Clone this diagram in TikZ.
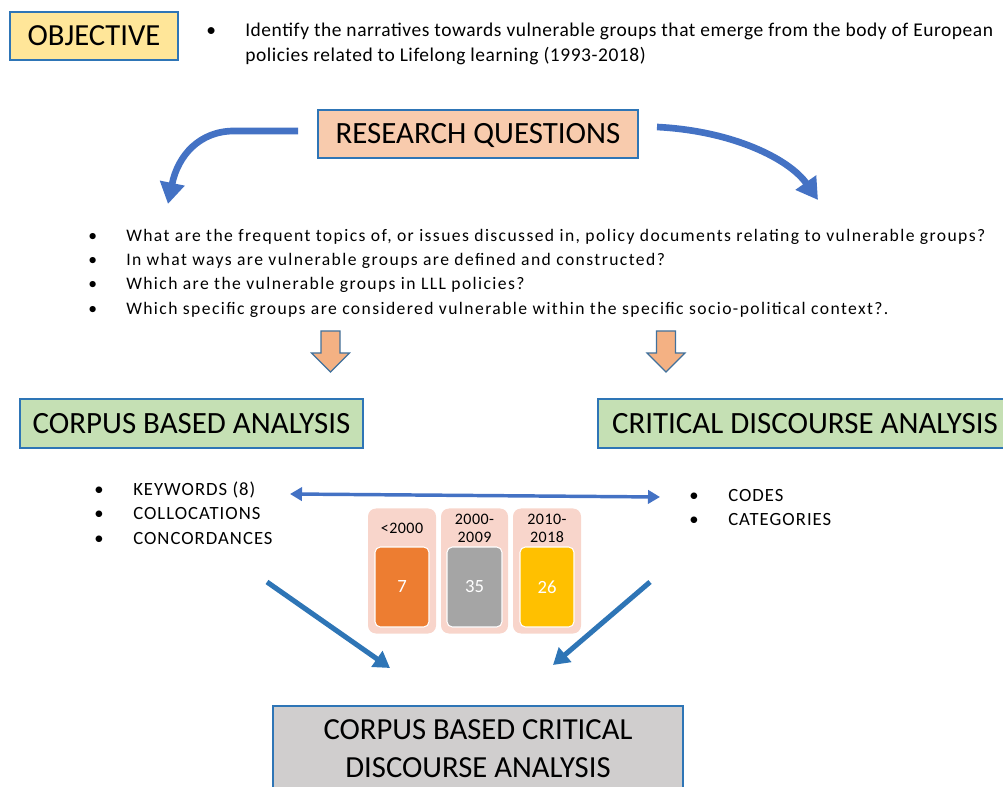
\documentclass[tikz,border=0pt]{standalone}
\usepackage{fontspec}
\setmainfont{Carlito}
\newfontfamily\lsq[LetterSpace=8]{Carlito}
\newfontfamily\lsk[LetterSpace=5.5]{Carlito}
\newfontfamily\lso[LetterSpace=2.8]{Carlito}
\newfontfamily\lsl[LetterSpace=3]{Carlito}
\usetikzlibrary{arrows.meta}
\definecolor{bord}{HTML}{2E75B6}
\definecolor{arrblue}{HTML}{4472C4}
\definecolor{diagblue}{HTML}{2E75B6}
\definecolor{objfill}{HTML}{FFE699}
\definecolor{rqfill}{HTML}{F8CBAD}
\definecolor{grfill}{HTML}{C5E0B4}
\definecolor{gyfill}{HTML}{D0CECE}
\definecolor{orarr}{HTML}{F4B183}
\definecolor{orarrb}{HTML}{41719C}
\definecolor{pinkbg}{HTML}{F8D5CB}
\definecolor{c1}{HTML}{ED7D31}
\definecolor{c2}{HTML}{A5A5A5}
\definecolor{c3}{HTML}{FFC000}
\tikzset{
  mainbox/.style={draw=bord, line width=1.3pt, inner sep=0pt, font=\fontsize{23.2}{27}\selectfont},
  capcenter/.style={text height=15pt, text depth=0pt},
  txt/.style={anchor=base west, inner sep=0pt, font=\lso\fontsize{14.6}{17}\selectfont},
  qtxt/.style={anchor=base west, inner sep=0pt, font=\lsq\fontsize{13.2}{16}\selectfont},
  ktxt/.style={anchor=base west, inner sep=0pt, font=\lsk\fontsize{14}{16}\selectfont},
  outerbox/.style={fill=pinkbg, rounded corners=6pt, inner sep=0pt},
  innerbox/.style={draw=white, line width=0.8pt, rounded corners=4pt, inner sep=0pt, text=white, font=\fontsize{14}{16}\selectfont},
  lbl/.style={inner sep=0pt, align=center, font=\lsl\fontsize{12}{13.5}\selectfont},
  curvarr/.style={draw=arrblue, line width=5pt, -{Triangle[length=16pt,width=18pt]}},
  diagarr/.style={draw=diagblue, line width=3.8pt, -{Triangle[length=12pt,width=14pt]}},
  dblarr/.style={draw=arrblue, line width=2.6pt, {Triangle[length=9pt,width=10pt]}-{Triangle[length=9pt,width=10pt]}},
  downarr/.style={fill=orarr, draw=orarrb, line width=0.9pt, line join=miter},
}
\begin{document}
\begin{tikzpicture}[x=0.75pt,y=-0.75pt]
\useasboundingbox (0,0) rectangle (1003,787);
% Objective
\node[mainbox, capcenter, fill=objfill, minimum width=168*0.75pt, minimum height=48*0.75pt, font=\fontsize{23}{26}\selectfont] (obj) at (94,36) {OBJECTIVE};
\node[txt] (objb) at (206,37) {•};
\node[txt] (obj1) at (245,37) {Identify the narratives towards vulnerable groups that emerge from the body of European};
\node[txt] (obj2) at (245,62) {policies related to Lifelong learning (1993-2018)};
% Research questions
\node[mainbox, capcenter, fill=rqfill, minimum width=320*0.75pt, minimum height=48*0.75pt] (rq) at (478,134) {RESEARCH QUESTIONS};
\coordinate (la) at (298,131);
\coordinate (lt) at (168,204);
\coordinate (ra) at (657,127);
\coordinate (rt) at (818,200);
\draw[curvarr] (la) -- (234,131) .. controls (200,131) and (178,155) .. (lt);
\draw[curvarr] (ra) .. controls (735,131) and (790,160) .. (rt);
% Questions
\node[qtxt] (qb1) at (88,242) {•};
\node[qtxt] (q1) at (126,242) {What are the frequent topics of, or issues discussed in, policy documents relating to vulnerable groups?};
\node[qtxt] (qb2) at (88,266) {•};
\node[qtxt] (q2) at (126,266) {In what ways are vulnerable groups are defined and constructed?};
\node[qtxt] (qb3) at (88,290) {•};
\node[qtxt] (q3) at (126,290) {Which are the vulnerable groups in LLL policies?};
\node[qtxt] (qb4) at (88,315) {•};
\node[qtxt] (q4) at (126,315) {Which specific groups are considered vulnerable within the specific socio-political context?.};
% orange down arrows
\draw[downarr] (321,331) -- (340,331) -- (340,353) -- (349.5,353) -- (330.5,372) -- (311.5,353) -- (321,353) -- cycle;
\draw[downarr] (656.5,331) -- (675.5,331) -- (675.5,353) -- (685,353) -- (666,372) -- (647,353) -- (656.5,353) -- cycle;
% analysis boxes
\node[mainbox, capcenter, fill=grfill, minimum width=343*0.75pt, minimum height=49*0.75pt] (cba) at (191.5,423.5) {CORPUS BASED ANALYSIS};
\node[mainbox, capcenter, fill=grfill, minimum width=414*0.75pt, minimum height=49*0.75pt] (cda) at (805,423.5) {CRITICAL DISCOURSE ANALYSIS};
% keyword bullets
\node[ktxt] (kb1) at (94,496) {•};
\node[ktxt] (k1) at (133,496) {KEYWORDS (8)};
\node[ktxt] (kb2) at (94,520) {•};
\node[ktxt] (k2) at (133,520) {COLLOCATIONS};
\node[ktxt] (kb3) at (94,544) {•};
\node[ktxt] (k3) at (133,544) {CONCORDANCES};
\node[ktxt] (cb1) at (689,502) {•};
\node[ktxt] (c1t) at (728,502) {CODES};
\node[ktxt] (cb2) at (689,526) {•};
\node[ktxt] (c2t) at (728,526) {CATEGORIES};
\coordinate (dl) at (290,494);
\coordinate (dr) at (660,497);
\draw[dblarr] (dl) -- (dr);
% period boxes
\node[outerbox, minimum width=68*0.75pt, minimum height=125*0.75pt] (p1) at (402,571) {};
\node[outerbox, minimum width=67*0.75pt, minimum height=125*0.75pt] (p2) at (474.5,571) {};
\node[outerbox, minimum width=68*0.75pt, minimum height=125*0.75pt] (p3) at (547,571) {};
\node[lbl] (l1) at (402,528) {<2000};
\node[lbl] (l2) at (474.5,528) {2000-\\2009};
\node[lbl] (l3) at (547,528) {2010-\\2018};
\node[innerbox, fill=c1, minimum width=54*0.75pt, minimum height=80*0.75pt] (n1) at (402,587) {7};
\node[innerbox, fill=c2, minimum width=55*0.75pt, minimum height=80*0.75pt] (n2) at (474.5,587) {35};
\node[innerbox, fill=c3, minimum width=54*0.75pt, minimum height=80*0.75pt] (n3) at (547,587) {26};
% final box
\node[mainbox, fill=gyfill, minimum width=410*0.75pt, minimum height=100*0.75pt] (finalbox) at (478,756) {};
\node[inner sep=0pt, align=center, font=\fontsize{23}{28.5}\selectfont] (final) at (478,749) {CORPUS BASED CRITICAL\\DISCOURSE ANALYSIS};
\coordinate (dal) at (267,582);
\coordinate (dat) at (390,668);
\coordinate (dar) at (650,582);
\coordinate (drt) at (553,665);
\draw[diagarr] (dal) -- (dat);
\draw[diagarr] (dar) -- (drt);
\end{tikzpicture}
\end{document}
